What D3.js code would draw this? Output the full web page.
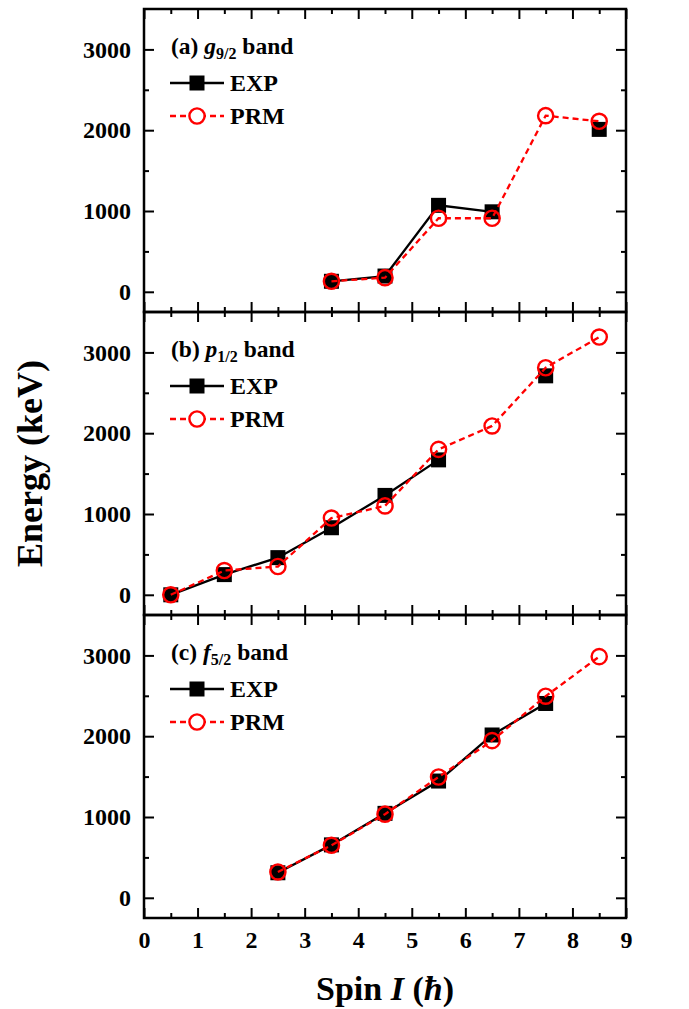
<!DOCTYPE html>
<html>
<head>
<meta charset="utf-8">
<script src="https://cdn.jsdelivr.net/npm/d3@7"></script>
<style>
  body { margin: 0; background: #fff; }
  svg text { font-family: "Liberation Serif", "Times New Roman", serif; font-weight: bold; fill: #000; }
</style>
</head>
<body>
<svg id="chart" width="689" height="1009"></svg>
<script>
// spin values (hbar)
var spin = [0.5, 1.5, 2.5, 3.5, 4.5, 5.5, 6.5, 7.5, 8.5];

// energies (keV), null = no level
var expA = [null, null, null, 130, 195, 1070, 990, null, 2010];
var prmA = [null, null, null, 130, 175, 910, 910, 2180, 2110];
var expB = [0, 250, 460, 830, 1230, 1670, null, 2710, null];
var prmB = [0, 300, 350, 950, 1100, 1800, 2090, 2810, 3190];
var expC = [null, null, 310, 655, 1045, 1445, 2015, 2405, null];
var prmC = [null, null, 320, 650, 1035, 1495, 1945, 2495, 2985];

var panelTags = ["(a) ", "(b) ", "(c) "];
var orbitals = ["g", "p", "f"];
var subs = ["9/2", "1/2", "5/2"];
var yTicks = [0, 1000, 2000, 3000];
var xTicks = [0, 1, 2, 3, 4, 5, 6, 7, 8, 9];

var drawBands = function() {
    var panels = [
        {exp: expA, prm: prmA},
        {exp: expB, prm: prmB},
        {exp: expC, prm: prmC}
    ];

    var svg = d3.select('#chart');
    var x0 = 144, x1 = 626, y0 = 9, ph = 303;
    var w = x1 - x0;

    var x = d3.scaleLinear().domain([0, 9]).range([0, w]);
    var y = d3.scaleLinear().domain([-250, 3500]).range([ph, 0]);

    var line = d3.line()
        .defined(function(d) { return d[1] != null; })
        .x(function(d) { return x(d[0]); })
        .y(function(d) { return y(d[1]); });

    function styleAxis(g) {
        g.select('.domain').remove();
        g.selectAll('line').attr('stroke', '#000').attr('stroke-width', 2);
        g.selectAll('text').attr('font-size', 24).attr('font-family', '"Liberation Serif", serif')
            .attr('font-weight', 'bold').attr('fill', '#000');
    }

    var minorY = [500, 1500, 2500];
    var minorX = d3.range(0.5, 9, 1);

    panels.forEach(function(p, i) {
        var g = svg.append('g').attr('transform', 'translate(' + x0 + ',' + (y0 + i * ph) + ')');
        var last = i === panels.length - 1;

        // minor ticks
        g.append('g').call(d3.axisLeft(y).tickValues(minorY).tickSize(-5).tickFormat('')).call(styleAxis);
        g.append('g').attr('transform', 'translate(' + w + ',0)')
            .call(d3.axisRight(y).tickValues(minorY).tickSize(-5).tickFormat('')).call(styleAxis);
        g.append('g').attr('transform', 'translate(0,' + ph + ')')
            .call(d3.axisBottom(x).tickValues(minorX).tickSize(-5).tickFormat('')).call(styleAxis);
        g.append('g').call(d3.axisTop(x).tickValues(minorX).tickSize(-5).tickFormat('')).call(styleAxis);

        // major ticks
        g.append('g').call(d3.axisLeft(y).tickValues(yTicks).tickSize(-10).tickPadding(13)
            .tickFormat(d3.format('d'))).call(styleAxis);
        g.append('g').attr('transform', 'translate(' + w + ',0)')
            .call(d3.axisRight(y).tickValues(yTicks).tickSize(-10).tickFormat('')).call(styleAxis);
        g.append('g').attr('transform', 'translate(0,' + ph + ')')
            .call(d3.axisBottom(x).tickValues(xTicks).tickSize(-10).tickPadding(13)
                .tickFormat(last ? d3.format('d') : '')).call(styleAxis);
        g.append('g').call(d3.axisTop(x).tickValues(xTicks).tickSize(-10).tickFormat('')).call(styleAxis);

        g.append('rect')
            .attr('width', w).attr('height', ph)
            .attr('fill', 'none').attr('stroke', '#000').attr('stroke-width', 2.5);

        var expPts = spin.map(function(s, k) { return [s, p.exp[k]]; });
        var prmPts = spin.map(function(s, k) { return [s, p.prm[k]]; });

        g.append('path')
            .attr('d', line(expPts))
            .attr('fill', 'none').attr('stroke', '#000').attr('stroke-width', 2.3);
        g.selectAll('.sq').data(expPts.filter(function(d) { return d[1] != null; }))
            .enter().append('rect')
            .attr('x', function(d) { return x(d[0]) - 7.5; })
            .attr('y', function(d) { return y(d[1]) - 7.5; })
            .attr('width', 15).attr('height', 15)
            .attr('fill', '#000');

        g.append('path')
            .attr('d', line(prmPts))
            .attr('fill', 'none').attr('stroke', '#f00').attr('stroke-width', 2.3)
            .attr('stroke-dasharray', '6,4');
        g.selectAll('.ci').data(prmPts.filter(function(d) { return d[1] != null; }))
            .enter().append('circle')
            .attr('cx', function(d) { return x(d[0]); })
            .attr('cy', function(d) { return y(d[1]); })
            .attr('r', 7.6)
            .attr('fill', 'none').attr('stroke', '#f00').attr('stroke-width', 2.4);

        // panel title
        var t = g.append('text').attr('x', 27).attr('y', 45).attr('font-size', 23.5);
        t.append('tspan').text(panelTags[i]);
        t.append('tspan').attr('font-style', 'italic').text(orbitals[i]);
        t.append('tspan').attr('font-size', 16).attr('dy', 5).text(subs[i]);
        t.append('tspan').attr('dy', -5).text(' band');

        // legend
        var lg = g.append('g').attr('transform', 'translate(26,74)');
        lg.append('line').attr('x1', 0).attr('x2', 54).attr('stroke', '#000').attr('stroke-width', 2.3);
        lg.append('rect').attr('x', 19.5).attr('y', -7.5).attr('width', 15).attr('height', 15).attr('fill', '#000');
        lg.append('text').attr('x', 60).attr('y', 8).attr('font-size', 24).text('EXP');

        var lg2 = g.append('g').attr('transform', 'translate(26,107)');
        lg2.append('line').attr('x1', 0).attr('x2', 54).attr('stroke', '#f00').attr('stroke-width', 2.3)
            .attr('stroke-dasharray', '6,4');
        lg2.append('circle').attr('cx', 27).attr('r', 7.6).attr('fill', '#fff')
            .attr('stroke', '#f00').attr('stroke-width', 2.4);
        lg2.append('text').attr('x', 60).attr('y', 8).attr('font-size', 24).text('PRM');
    });

    // axis titles
    svg.append('text')
        .attr('transform', 'translate(42,' + (y0 + 1.5 * ph) + ') rotate(-90)')
        .attr('text-anchor', 'middle')
        .attr('font-size', 36)
        .text('Energy (keV)');

    var xt = svg.append('text')
        .attr('x', x0 + w / 2).attr('y', 1000)
        .attr('text-anchor', 'middle')
        .attr('font-size', 34);
    xt.append('tspan').text('Spin ');
    xt.append('tspan').attr('font-style', 'italic').text('I');
    xt.append('tspan').text(' (');
    xt.append('tspan').attr('font-style', 'italic').text('ħ');
    xt.append('tspan').text(')');
};

drawBands();
</script>
</body>
</html>
